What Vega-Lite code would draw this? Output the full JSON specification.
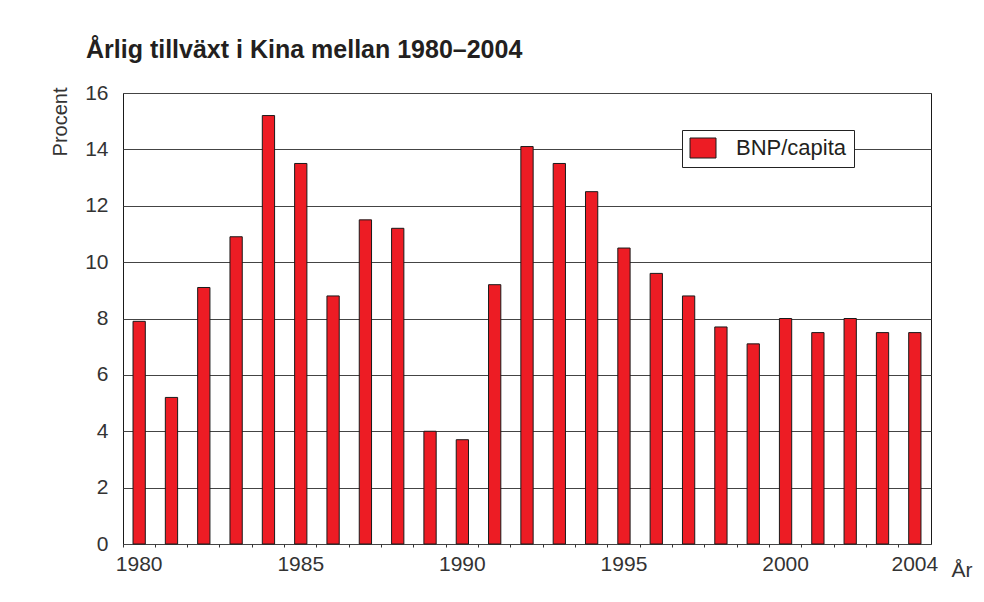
{
  "$schema": "https://vega.github.io/schema/vega-lite/v6.json",
  "width": 808,
  "height": 451,
  "autosize": {"type": "none"},
  "padding": {"left": 123, "top": 93, "right": 53, "bottom": 58},
  "background": "white",
  "title": {
    "text": "Årlig tillväxt i Kina mellan 1980–2004",
    "anchor": "start",
    "frame": "group",
    "dx": -37,
    "offset": 19,
    "font": "Liberation Sans",
    "fontSize": 25,
    "fontWeight": "bold",
    "color": "#231f20"
  },
  "data": {
    "values": [
      {"year": 1980, "value": 7.9, "series": "BNP/capita"},
      {"year": 1981, "value": 5.2, "series": "BNP/capita"},
      {"year": 1982, "value": 9.1, "series": "BNP/capita"},
      {"year": 1983, "value": 10.9, "series": "BNP/capita"},
      {"year": 1984, "value": 15.2, "series": "BNP/capita"},
      {"year": 1985, "value": 13.5, "series": "BNP/capita"},
      {"year": 1986, "value": 8.8, "series": "BNP/capita"},
      {"year": 1987, "value": 11.5, "series": "BNP/capita"},
      {"year": 1988, "value": 11.2, "series": "BNP/capita"},
      {"year": 1989, "value": 4.0, "series": "BNP/capita"},
      {"year": 1990, "value": 3.7, "series": "BNP/capita"},
      {"year": 1991, "value": 9.2, "series": "BNP/capita"},
      {"year": 1992, "value": 14.1, "series": "BNP/capita"},
      {"year": 1993, "value": 13.5, "series": "BNP/capita"},
      {"year": 1994, "value": 12.5, "series": "BNP/capita"},
      {"year": 1995, "value": 10.5, "series": "BNP/capita"},
      {"year": 1996, "value": 9.6, "series": "BNP/capita"},
      {"year": 1997, "value": 8.8, "series": "BNP/capita"},
      {"year": 1998, "value": 7.7, "series": "BNP/capita"},
      {"year": 1999, "value": 7.1, "series": "BNP/capita"},
      {"year": 2000, "value": 8.0, "series": "BNP/capita"},
      {"year": 2001, "value": 7.5, "series": "BNP/capita"},
      {"year": 2002, "value": 8.0, "series": "BNP/capita"},
      {"year": 2003, "value": 7.5, "series": "BNP/capita"},
      {"year": 2004, "value": 7.5, "series": "BNP/capita"}
    ]
  },
  "mark": {"type": "bar", "width": {"band": 0.38}, "stroke": "#1a1a1a", "strokeWidth": 1},
  "encoding": {
    "x": {
      "field": "year",
      "type": "ordinal",
      "scale": {"paddingInner": 0, "paddingOuter": 0},
      "axis": {
        "title": "År",
        "titleX": 828,
        "titleY": 32,
        "titleAlign": "left",
        "titleBaseline": "alphabetic",
        "titleFont": "Liberation Sans",
        "titleFontSize": 21,
        "titleFontWeight": "normal",
        "titleColor": "#333333",
        "labelAngle": 0,
        "bandPosition": 0,
        "labelOverlap": false,
        "labelExpr": "(datum.value % 5 == 0 || datum.value == 2004) ? datum.label : ''",
        "labelFont": "Liberation Sans",
        "labelFontSize": 21,
        "labelColor": "#333333",
        "labelPadding": 6,
        "tickSize": 3,
        "tickColor": "#333333",
        "domain": false,
        "grid": false
      }
    },
    "y": {
      "field": "value",
      "type": "quantitative",
      "scale": {"domain": [0, 16], "nice": false},
      "axis": {
        "title": "Procent",
        "titleAngle": -90,
        "titleX": -57,
        "titleY": -6,
        "titleAlign": "right",
        "titleBaseline": "alphabetic",
        "titleFont": "Liberation Sans",
        "titleFontSize": 20,
        "titleFontWeight": "normal",
        "titleColor": "#333333",
        "values": [0, 2, 4, 6, 8, 10, 12, 14, 16],
        "labelFont": "Liberation Sans",
        "labelFontSize": 21,
        "labelColor": "#333333",
        "labelPadding": 15,
        "ticks": false,
        "domain": false,
        "grid": true,
        "gridColor": "#444444",
        "gridWidth": 1
      }
    },
    "color": {
      "field": "series",
      "type": "nominal",
      "scale": {"range": ["#ed1c24"]},
      "legend": {
        "title": null,
        "orient": "none",
        "legendX": 559,
        "legendY": 37,
        "padding": 7,
        "strokeColor": "#222222",
        "fillColor": "white",
        "symbolType": "M-1.3,-1H1.3V1H-1.3Z",
        "symbolSize": 400,
        "symbolStrokeColor": "#1a1a1a",
        "symbolStrokeWidth": 1,
        "symbolOpacity": 1,
        "symbolOffset": 3,
        "labelOffset": 22,
        "labelFont": "Liberation Sans",
        "labelFontSize": 22,
        "labelColor": "#231f20",
        "encode": {
          "entries": {
            "update": {
              "width": {"value": 183},
              "fill": {"value": "transparent"}
            }
          }
        }
      }
    }
  },
  "config": {
    "view": {"stroke": "#1a1a1a", "strokeWidth": 1}
  }
}
